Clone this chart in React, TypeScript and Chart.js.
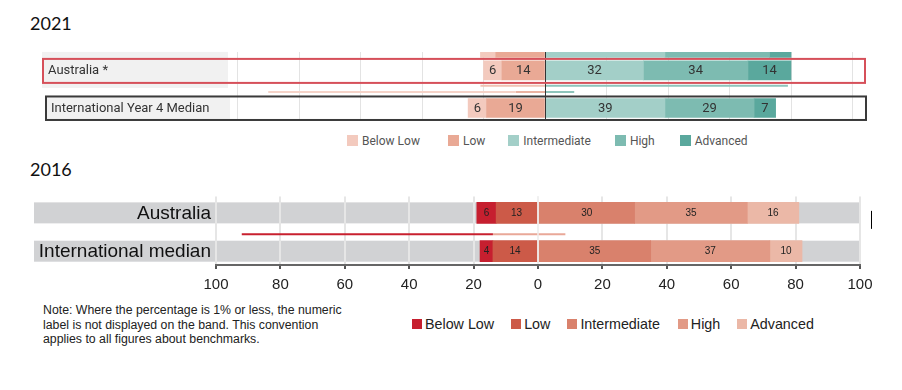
import React, { useEffect, useRef } from 'react';
import { Chart, registerables } from 'chart.js';

Chart.register(...registerables);

// ---------------- data ----------------
const LEVELS = ['Below Low', 'Low', 'Intermediate', 'High', 'Advanced'];

// 2021
const ROWS_2021 = ['Australia *', 'International Year 4 Median'];
const BELOW_LOW_2021 = [6, 6];
const LOW_2021 = [14, 19];
const INTERMEDIATE_2021 = [32, 39];
const HIGH_2021 = [34, 29];
const ADVANCED_2021 = [14, 7];
// neighbouring row that is cut off at the top of the source crop (Below Low, Low, Intermediate, High, Advanced)
const CROPPED_ROW_2021 = [5, 16, 39, 34, 7];
// thin slivers of neighbouring rows visible between the two rows: [start, end] in %
const SLIVER_A_2021: [number, number][] = [[-21, 0], [0, 79]];
const SLIVER_B_2021: [number, number][] = [[-90, -9.5], [-9.5, 0], [0, 9.5]];

// 2016
const ROWS_2016 = ['Australia', 'International median'];
const BELOW_LOW_2016 = [6, 4];
const LOW_2016 = [13, 14];
const INTERMEDIATE_2016 = [30, 35];
const HIGH_2016 = [35, 37];
const ADVANCED_2016 = [16, 10];
const SLIVER_2016: [number, number][] = [[-92, -14], [-14, 8.5]];

const TICKS_2016 = [-100, -80, -60, -40, -20, 0, 20, 40, 60, 80, 100];
const TICK_LABELS_2016 = ['100', '80', '60', '40', '20', '0', '20', '40', '60', '80', '100'];

// ---------------- styles ----------------
const COLORS_2021 = ['#f3cabe', '#e9a995', '#a3cfc8', '#7dbbb1', '#5aa89d'];
const SLIVER_A_COLORS = ['#efc3b5', '#8ec4bb'];
const SLIVER_B_COLORS = ['#f5d3c8', '#eab3a2', '#8ec4bb'];
const COLORS_2016 = ['#c61f2f', '#cc5a48', '#d9816c', '#e29a86', '#ebb8a7'];
const SLIVER_2016_COLORS = ['#c8202f', '#e9a898'];

const ROW_POS = [0, 1];

type Seg = [number, number];

function bandDatasets(
  values: number[][],
  colors: string[],
  thickness: number,
  extra?: { values: number[]; pos: number }
) {
  // Low is stacked before Below Low so that Below Low sits outermost on the negative side
  const stackOrder = [1, 0, 2, 3, 4];
  return stackOrder.map((k) => {
    const sign = k < 2 ? -1 : 1;
    const data: any[] = values[k].map((v, r) => ({ x: sign * v, y: ROW_POS[r] }));
    const labelValues: (number | null)[] = [...values[k]];
    if (extra) {
      data.push({ x: sign * extra.values[k], y: extra.pos });
      labelValues.push(null);
    }
    return {
      type: 'bar',
      label: LEVELS[k],
      stack: 'bands',
      data,
      labelValues,
      backgroundColor: colors[k],
      borderWidth: 0,
      barThickness: thickness,
      clip: 0,
    };
  });
}

function sliverDatasets(segs: Seg[], colors: string[], pos: number) {
  return segs.map((s, i) => ({
    type: 'line',
    data: [
      { x: s[0], y: pos },
      { x: s[1], y: pos },
    ],
    borderColor: colors[i],
    borderWidth: 2,
    pointRadius: 0,
    fill: false,
    clip: 0,
  }));
}

function drawBarLabels(chart: any, font: string, color: string) {
  const ctx = chart.ctx;
  ctx.save();
  ctx.font = font;
  ctx.fillStyle = color;
  ctx.textAlign = 'center';
  ctx.textBaseline = 'middle';
  chart.data.datasets.forEach((ds: any, i: number) => {
    if (!ds.labelValues) return;
    const meta = chart.getDatasetMeta(i);
    meta.data.forEach((el: any, j: number) => {
      const v = ds.labelValues[j];
      if (v == null || v <= 1) return;
      ctx.fillText(String(v), (el.x + el.base) / 2, el.y + 0.5);
    });
  });
  ctx.restore();
}

function rowAxis(min: number, max: number) {
  return {
    type: 'linear',
    display: false,
    reverse: true,
    offset: false,
    grace: 0,
    beginAtZero: false,
    bounds: 'data',
    min,
    max,
    grid: { offset: false },
    afterBuildTicks: (s: any) => {
      s.min = min;
      s.max = max;
      s.ticks = [{ value: min }, { value: max }];
    },
  };
}

// ---------------- 2021 chart ----------------
function make2021(canvas: HTMLCanvasElement) {
  const values = [BELOW_LOW_2021, LOW_2021, INTERMEDIATE_2021, HIGH_2021, ADVANCED_2021];
  const datasets: any[] = [
    ...bandDatasets(values, COLORS_2021, 19, { values: CROPPED_ROW_2021, pos: -0.6 }),
    ...sliverDatasets(SLIVER_A_2021, SLIVER_A_COLORS, 0.41),
    ...sliverDatasets(SLIVER_B_2021, SLIVER_B_COLORS, 0.575),
  ];
  const deco = {
    id: 'deco2021',
    beforeDraw(chart: any) {
      const ctx = chart.ctx;
      const y = chart.scales.y;
      ctx.save();
      ctx.fillStyle = '#f1f1f1';
      const c0 = y.getPixelForValue(ROW_POS[0]);
      const c1 = y.getPixelForValue(ROW_POS[1]);
      ctx.fillRect(42, c0 - 18.5, 186, 36);
      ctx.fillRect(47, c1 - 11, 183, 22);
      ctx.restore();
    },
    afterDatasetsDraw(chart: any) {
      const ctx = chart.ctx;
      const x = chart.scales.x;
      const a = chart.chartArea;
      ctx.save();
      ctx.strokeStyle = '#333';
      ctx.lineWidth = 1;
      const zx = Math.round(x.getPixelForValue(0)) + 0.5;
      ctx.beginPath();
      ctx.moveTo(zx, a.top);
      ctx.lineTo(zx, a.bottom);
      ctx.stroke();
      ctx.restore();
      drawBarLabels(chart, '13px Roboto', '#333');
    },
    afterDraw(chart: any) {
      const ctx = chart.ctx;
      const y = chart.scales.y;
      const c0 = y.getPixelForValue(ROW_POS[0]);
      const c1 = y.getPixelForValue(ROW_POS[1]);
      ctx.save();
      ctx.lineWidth = 2;
      ctx.strokeStyle = '#d6505a';
      ctx.strokeRect(43, c0 - 11.5, 822, 24);
      ctx.strokeStyle = '#3a3a3a';
      ctx.strokeRect(46, c1 - 11.5, 820, 23.5);
      ctx.fillStyle = '#333';
      ctx.font = '13px Roboto';
      ctx.textBaseline = 'middle';
      ctx.textAlign = 'left';
      ctx.fillText(ROWS_2021[0], 48, c0 + 0.5);
      ctx.fillText(ROWS_2021[1], 51, c1 + 0.5);
      ctx.restore();
    },
  };
  return new Chart(canvas, {
    type: 'bar',
    data: { datasets },
    options: {
      indexAxis: 'y',
      animation: false,
      responsive: false,
      maintainAspectRatio: false,
      events: [],
      layout: { padding: { left: 237.5, right: 49.5, top: 12, bottom: 10 } },
      plugins: { legend: { display: false }, tooltip: { enabled: false } },
      scales: {
        x: {
          type: 'linear',
          min: -100,
          max: 100,
          ticks: { display: false, stepSize: 20 },
          grid: { color: '#e3e3e3', drawTicks: false, lineWidth: 1 },
          border: { display: false },
        },
        y: rowAxis(-0.49, 1.32),
      },
    } as any,
    plugins: [deco],
  } as any);
}

// ---------------- 2016 chart ----------------
function make2016(canvas: HTMLCanvasElement) {
  const values = [BELOW_LOW_2016, LOW_2016, INTERMEDIATE_2016, HIGH_2016, ADVANCED_2016];
  const datasets: any[] = [
    ...bandDatasets(values, COLORS_2016, 21),
    ...sliverDatasets(SLIVER_2016, SLIVER_2016_COLORS, 0.56),
  ];
  const deco = {
    id: 'deco2016',
    beforeDraw(chart: any) {
      const ctx = chart.ctx;
      const y = chart.scales.y;
      const a = chart.chartArea;
      ctx.save();
      ctx.fillStyle = '#d1d2d4';
      ROW_POS.forEach((p) => {
        const c = y.getPixelForValue(p);
        ctx.fillRect(34, c - 10.5, a.right - 34, 21);
      });
      ctx.restore();
    },
    afterDatasetsDraw(chart: any) {
      const ctx = chart.ctx;
      const x = chart.scales.x;
      const a = chart.chartArea;
      ctx.save();
      ctx.strokeStyle = 'rgba(245,245,245,0.9)';
      ctx.lineWidth = 1.5;
      const zx = x.getPixelForValue(0);
      ctx.beginPath();
      ctx.moveTo(zx, a.top);
      ctx.lineTo(zx, a.bottom - 1);
      ctx.stroke();
      ctx.restore();
      drawBarLabels(chart, '10px "Liberation Sans", Arial', '#222');
    },
    afterDraw(chart: any) {
      const ctx = chart.ctx;
      const y = chart.scales.y;
      const a = chart.chartArea;
      ctx.save();
      ctx.fillStyle = '#111';
      ctx.font = '19px "Liberation Sans", Arial';
      ctx.textAlign = 'right';
      ctx.textBaseline = 'middle';
      ROWS_2016.forEach((name, r) => {
        ctx.fillText(name, 211, y.getPixelForValue(ROW_POS[r]) + 1);
      });
      // stray text cursor in the source screenshot
      ctx.strokeStyle = '#000';
      ctx.lineWidth = 1;
      ctx.beginPath();
      ctx.moveTo(a.right + 11.5, y.getPixelForValue(ROW_POS[0]) - 2);
      ctx.lineTo(a.right + 11.5, y.getPixelForValue(ROW_POS[0]) + 16);
      ctx.stroke();
      ctx.restore();
    },
  };
  return new Chart(canvas, {
    type: 'bar',
    data: { datasets },
    options: {
      indexAxis: 'y',
      animation: false,
      responsive: false,
      maintainAspectRatio: false,
      events: [],
      layout: { padding: { left: 216, right: 42, top: 16.5, bottom: 0 } },
      plugins: { legend: { display: false }, tooltip: { enabled: false } },
      scales: {
        x: {
          type: 'linear',
          min: -100,
          max: 100,
          afterBuildTicks: (s: any) => {
            s.ticks = TICKS_2016.map((v) => ({ value: v }));
          },
          ticks: {
            callback: (_v: any, i: number) => TICK_LABELS_2016[i],
            font: { family: '"Liberation Sans", Arial', size: 15 },
            color: '#222',
            padding: 7,
            maxRotation: 0,
            autoSkip: false,
          },
          grid: { color: '#e6e6e6', lineWidth: 2, drawTicks: true, tickLength: 4, tickColor: '#555', tickWidth: 2 },
          border: { display: true, color: '#666', width: 2 },
        },
        y: rowAxis(-0.427, 1.36),
      },
    } as any,
    plugins: [deco],
  } as any);
}

// ---------------- components ----------------
function ChartCanvas({ top, height, make }: { top: number; height: number; make: (c: HTMLCanvasElement) => Chart }) {
  const ref = useRef<HTMLCanvasElement | null>(null);
  useEffect(() => {
    if (!ref.current) return;
    const chart = make(ref.current);
    return () => chart.destroy();
  }, []);
  return (
    <canvas
      ref={ref}
      width={902}
      height={height}
      style={{ position: 'absolute', left: 0, top, width: 902, height, display: 'block' }}
    />
  );
}

function Legend({
  colors,
  left,
  top,
  height,
  font,
  textColor,
  square,
  textGap,
  itemGap,
}: {
  colors: string[];
  left: number;
  top: number;
  height: number;
  font: string;
  textColor: string;
  square: number;
  textGap: number;
  itemGap: number[];
}) {
  return (
    <div style={{ position: 'absolute', left, top, height, display: 'flex', alignItems: 'center', font, color: textColor, whiteSpace: 'nowrap' }}>
      {LEVELS.map((l, i) => (
        <div key={l} style={{ display: 'flex', alignItems: 'center', marginRight: itemGap[i] }}>
          <span style={{ display: 'inline-block', width: square, height: square, background: colors[i], marginRight: textGap }} />
          <span>{l}</span>
        </div>
      ))}
    </div>
  );
}

export default function App() {
  return (
    <div style={{ position: 'absolute', left: 0, top: 0, width: 902, height: 390, background: '#fff', overflow: 'hidden' }}>
      <div style={{ position: 'absolute', left: 30, top: 14, font: '18px Lato', lineHeight: '18px', color: '#111' }}>2021</div>
      <ChartCanvas top={40} height={90} make={make2021} />
      <Legend
        colors={COLORS_2021}
        left={347}
        top={133}
        height={15}
        font="12px Roboto"
        textColor="#555"
        square={11}
        textGap={4}
        itemGap={[28, 23, 24, 25, 0]}
      />
      <div style={{ position: 'absolute', left: 30, top: 160, font: '18px Lato', lineHeight: '18px', color: '#111' }}>2016</div>
      <ChartCanvas top={180} height={121} make={make2016} />
      <div
        style={{
          position: 'absolute',
          left: 43,
          top: 303,
          font: '12.3px "Liberation Sans", Arial',
          lineHeight: '14.5px',
          color: '#222',
          whiteSpace: 'nowrap',
        }}
      >
        Note: Where the percentage is 1% or less, the numeric
        <br />
        label is not displayed on the band. This convention
        <br />
        applies to all figures about benchmarks.
      </div>
      <Legend
        colors={COLORS_2016}
        left={412}
        top={316}
        height={16}
        font={'14.3px "Liberation Sans", Arial'}
        textColor="#222"
        square={10}
        textGap={3}
        itemGap={[17, 17, 18, 17, 0]}
      />
    </div>
  );
}
